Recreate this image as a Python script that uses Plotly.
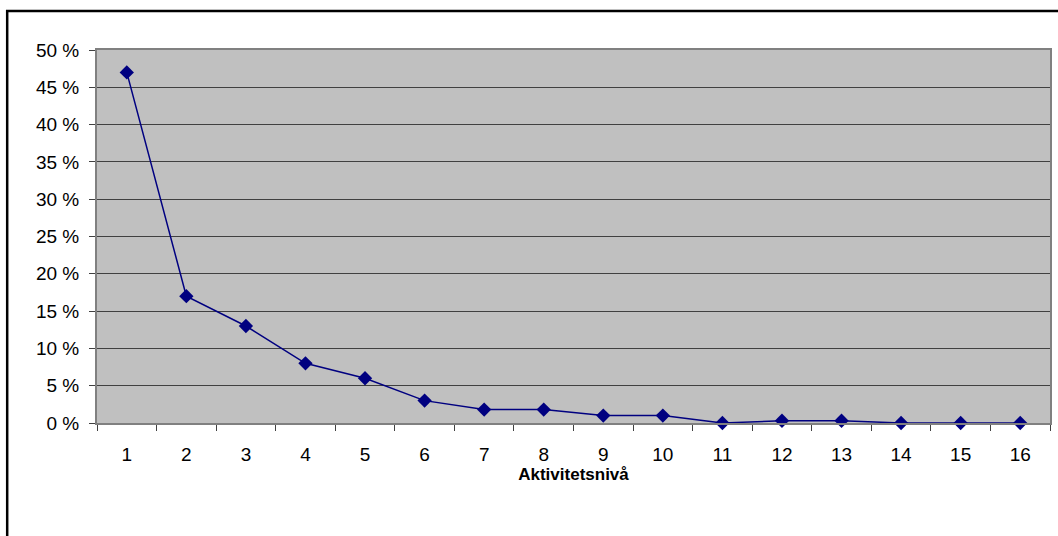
import plotly.graph_objects as go

categories = [str(i) for i in range(1, 17)]
values = [47, 17, 13, 8, 6, 3, 1.8, 1.8, 1.0, 1.0, 0, 0.3, 0.3, 0, 0, 0]
y_ticks = [0, 5, 10, 15, 20, 25, 30, 35, 40, 45, 50]
y_labels = [f"{v} %" for v in y_ticks]
x_title = "Aktivitetsnivå"

W, H = 1058, 536
L, R, T, B = 97, 6, 50, 113
pw = W - L - R
ph = H - T - B

fig = go.Figure()
fig.add_trace(go.Scatter(
    x=categories, y=values, mode="lines+markers",
    line=dict(color="#000080", width=1.5),
    marker=dict(symbol="diamond", size=11, color="#000080"),
    showlegend=False, cliponaxis=False,
))

fig.update_layout(
    width=W, height=H,
    margin=dict(l=L, r=R, t=T, b=B),
    paper_bgcolor="white",
    plot_bgcolor="#C0C0C0",
    font=dict(family="Liberation Sans, Arial", size=19, color="black"),
    xaxis=dict(
        type="category", tickson="boundaries",
        range=[-0.5, len(categories) - 0.5], autorange=False,
        ticks="outside", ticklen=6, tickcolor="#404040",
        ticklabelstandoff=13,
        showline=True, linecolor="#808080", linewidth=2, mirror=True,
        showgrid=False,
        title=dict(text="<b>" + x_title + "</b>", font=dict(size=17), standoff=3),
        tickfont=dict(size=19),
    ),
    yaxis=dict(
        range=[0, 50], tickvals=y_ticks, ticktext=y_labels,
        ticks="outside", ticklen=6, tickcolor="#404040",
        ticklabelstandoff=6,
        showline=True, linecolor="#808080", linewidth=2, mirror=True,
        showgrid=True, gridcolor="#404040", gridwidth=1,
        zeroline=False, tickfont=dict(size=19),
    ),
    shapes=[dict(
        type="rect", xref="paper", yref="paper",
        x0=(7 - L) / pw, x1=(1070 - L) / pw,
        y0=-(545 - T - ph) / ph, y1=1 + (T - 11) / ph,
        line=dict(color="black", width=2.5), fillcolor="rgba(0,0,0,0)",
        layer="below",
    )],
)

fig.write_html("out.html", config={"displayModeBar": False},
               post_script="document.body.style.margin='0';")
